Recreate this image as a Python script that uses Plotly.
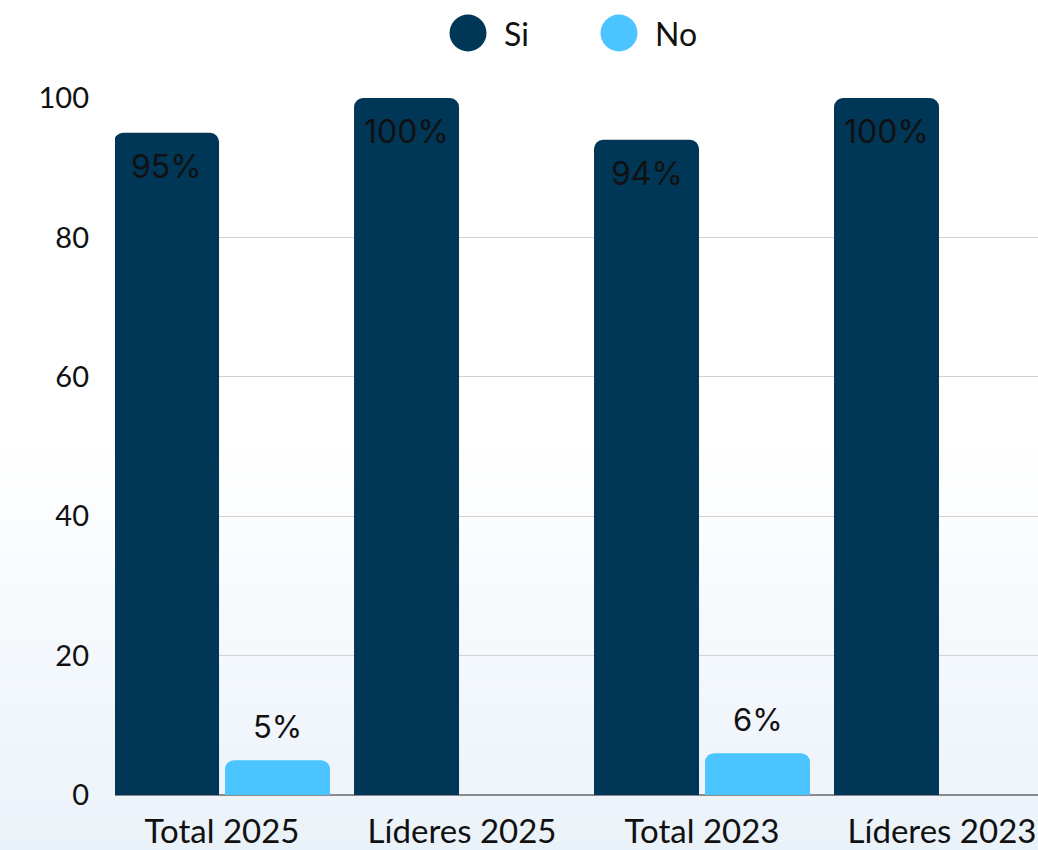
import plotly.graph_objects as go

# Survey answers per group (percent)
categories = ["Total 2025", "Líderes 2025", "Total 2023", "Líderes 2023"]
series_names = ["Si", "No"]
si_values = [95, 100, 94, 100]
no_values = [5, 0, 6, 0]
colors = ["#003757", "#4BC4FF"]

TICK_FONT = "Lato"
LABEL_FONT = "Inter"

fig = go.Figure()
for name, vals, col in zip(series_names, [si_values, no_values], colors):
    fig.add_trace(go.Bar(
        x=categories, y=vals, name=name, marker_color=col,
        marker_line_width=0, showlegend=False, hoverinfo="x+y+name",
    ))

# value labels: Si inside the bar top, No above the bar
annotations = []
for cat, v in zip(categories, si_values):
    annotations.append(dict(
        x=cat, y=v, text=f"{v}%", showarrow=False, xref="x", yref="y",
        yanchor="top", yshift=-12, xshift=-55.5,
        font=dict(family=LABEL_FONT, size=32, color="#111111"),
    ))
for cat, v in zip(categories, no_values):
    if v > 0:
        annotations.append(dict(
            x=cat, y=v, text=f"{v}%", showarrow=False, xref="x", yref="y",
            yanchor="bottom", yshift=13, xshift=55.5,
            font=dict(family=LABEL_FONT, size=31, color="#111111"),
        ))

# custom legend with large round swatches
legend_x = [468, 619]
shapes = []
for name, col, cx in zip(series_names, colors, legend_x):
    shapes.append(dict(
        type="circle", xref="paper", yref="paper",
        xsizemode="pixel", ysizemode="pixel",
        xanchor=(cx - 115) / 923, yanchor=(795 - 33) / 697,
        x0=-18.5, x1=18.5, y0=-18.5, y1=18.5,
        fillcolor=col, line_width=0, layer="above",
    ))
    annotations.append(dict(
        x=(cx + 34 - 115) / 923, y=(795 - 33) / 697, xref="paper", yref="paper",
        text=name, showarrow=False, xanchor="left", yanchor="middle",
        font=dict(family=TICK_FONT, size=32, color="#111111"),
    ))

# soft vertical background gradient, white fading to pale blue at the bottom
top_px, bottom_px, n_bands = 440, 850, 60
c0, c1 = (255, 255, 255), (234, 242, 249)
for i in range(n_bands):
    y_a = top_px + (bottom_px - top_px) * i / n_bands
    y_b = top_px + (bottom_px - top_px) * (i + 1) / n_bands
    t = (i + 0.5) / n_bands
    rgb = tuple(round(a + (b - a) * t) for a, b in zip(c0, c1))
    shapes.append(dict(
        type="rect", xref="paper", yref="paper", layer="below",
        x0=-0.2, x1=1.05,
        y0=(795 - y_b) / 697, y1=(795 - y_a) / 697 + 0.001,
        fillcolor="rgb(%d,%d,%d)" % rgb, line_width=0,
    ))

fig.update_layout(
    width=1038, height=850,
    margin=dict(l=115, r=0, t=98, b=55),
    paper_bgcolor="rgba(0,0,0,0)", plot_bgcolor="rgba(0,0,0,0)",
    barmode="group", bargap=0.075, bargroupgap=0.054, barcornerradius=9,
    shapes=shapes, annotations=annotations,
    font=dict(family=TICK_FONT, color="#111111"),
)
fig.update_xaxes(
    type="category", range=[-0.446, 3.4], showgrid=False,
    showline=False, ticks="", tickfont=dict(family=TICK_FONT, size=33, color="#111111"),
    ticklabelstandoff=14, zeroline=False,
)
fig.update_yaxes(
    range=[0, 100], tickvals=[0, 20, 40, 60, 80, 100],
    showgrid=True, gridcolor="#d2d2d2", gridwidth=1,
    zeroline=True, zerolinecolor="#8a8a8a", zerolinewidth=1.5,
    ticks="", tickfont=dict(family=TICK_FONT, size=29, color="#111111"),
    ticklabelstandoff=25,
)

fig.write_html("out.html")
